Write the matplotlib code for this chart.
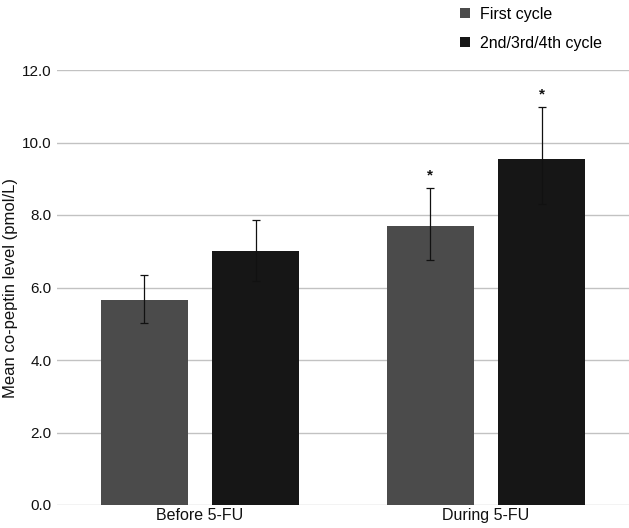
import matplotlib
matplotlib.use("Agg")
import matplotlib.pyplot as plt
import numpy as np

plt.rcParams["font.family"] = ["Liberation Sans", "DejaVu Sans"]

# values
groups = ["Before 5-FU", "During 5-FU"]
series = ["First cycle", "2nd/3rd/4th cycle"]
first_mean = [5.65, 7.70]
later_mean = [7.00, 9.54]
first_err_lo = [0.64, 0.94]
first_err_hi = [0.69, 1.04]
later_err_lo = [0.82, 1.24]
later_err_hi = [0.87, 1.45]
first_mark = ["", "*"]
later_mark = ["", "*"]

COLORS = ["#4b4b4b", "#161616"]
W = 0.305
OFF = 0.195

fig = plt.figure(figsize=(6.29, 5.28), dpi=100)
ax = fig.add_axes([57 / 629, 23 / 528, 1 - 57 / 629, (505 - 70) / 528])

x = np.arange(len(groups))
bars = []
for i, (mean, lo, hi, marks) in enumerate([
        (first_mean, first_err_lo, first_err_hi, first_mark),
        (later_mean, later_err_lo, later_err_hi, later_mark)]):
    pos = x + (-OFF if i == 0 else OFF)
    b = ax.bar(pos, mean, W, color=COLORS[i], zorder=2, label=series[i])
    bars.append(b)
    ax.errorbar(pos, mean, yerr=[lo, hi], fmt="none", ecolor="#111111",
                elinewidth=0.9, capsize=3, capthick=0.9, zorder=3)
    for p, m, h, mk in zip(pos, mean, hi, marks):
        if mk:
            ax.text(p, m + h + 0.15, mk, ha="center", va="bottom", fontsize=11,
                    fontweight="bold", color="#111111")

ax.set_xlim(-0.5, 1.5)
ax.set_ylim(0, 12)
ax.set_yticks(np.arange(0, 12.1, 2))
ax.set_yticklabels([f"{v:.1f}" for v in np.arange(0, 12.1, 2)])
ax.set_xticks(x)
ax.set_xticklabels(groups)
ax.yaxis.grid(True, color="#c2c2c2", lw=1.0, zorder=0)
ax.set_axisbelow(True)
for s in ax.spines.values():
    s.set_visible(False)
ax.tick_params(axis="y", length=0, labelsize=11, colors="#111111", pad=4)
ax.tick_params(axis="x", length=0, labelsize=11.5, colors="#111111", pad=2)
ax.set_ylabel("Mean co-peptin level (pmol/L)", fontsize=12, color="#111111", labelpad=3)

fig.legend(handles=bars, labels=series, loc="upper left", bbox_to_anchor=(446 / 629, 1.014),
           frameon=False, fontsize=11.5, handlelength=0.6, handleheight=0.6,
           handletextpad=0.6, labelspacing=0.85)

fig.savefig("out.png", dpi=100, facecolor="white")
